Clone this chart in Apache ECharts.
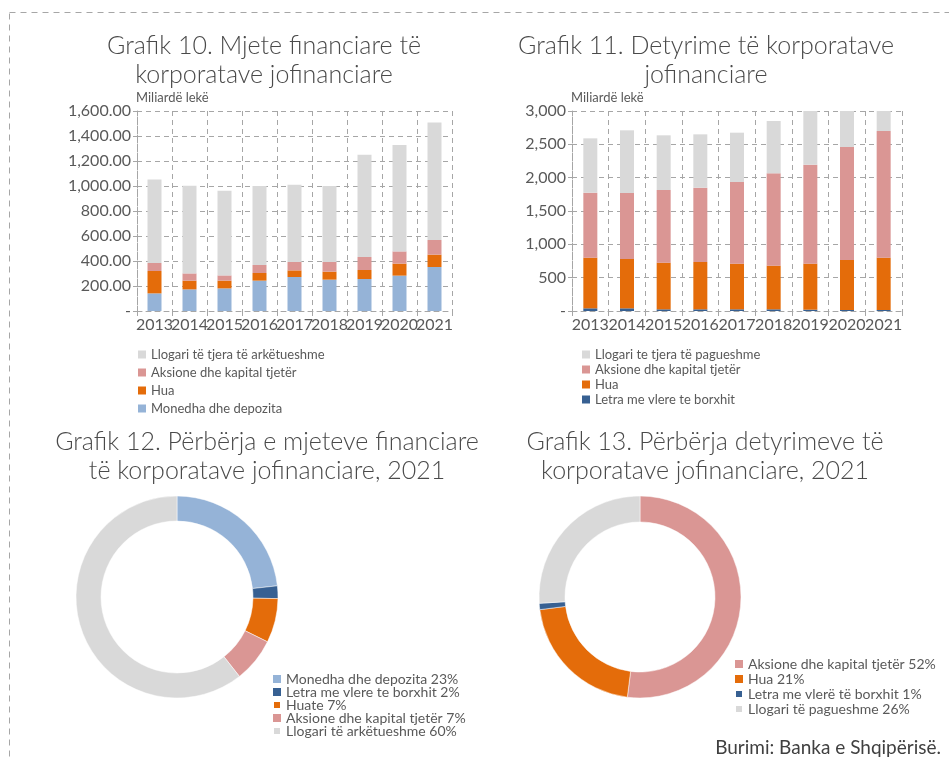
<!DOCTYPE html>
<html>
<head>
<meta charset="utf-8">
<script src="https://cdn.jsdelivr.net/npm/echarts@6/dist/echarts.min.js"></script>
<style>
  html, body { margin: 0; padding: 0; background: #fff; }
  #main { width: 949px; height: 760px; }
</style>
</head>
<body>
<div id="main"></div>
<script>
// te dhenat
const years = ['2013', '2014', '2015', '2016', '2017', '2018', '2019', '2020', '2021'];

// Grafik 10 - mjete financiare (miliarde leke)
const mjeteMonedha = [141, 173, 181, 243, 272, 251, 256, 283, 352];
const mjeteHua = [179, 70, 62, 61, 53, 64, 72, 96, 99];
const mjeteAksione = [64, 58, 42, 64, 67, 77, 104, 98, 117];
const mjeteLlogari = [669, 702, 678, 632, 619, 608, 819, 851, 941];

// Grafik 11 - detyrime
const detLetra = [40, 40, 25, 25, 25, 25, 20, 15, 15];
const detHua = [760, 740, 700, 710, 685, 655, 690, 750, 785];
const detAksione = [975, 990, 1090, 1115, 1225, 1385, 1485, 1695, 1900];
const detLlogari = [815, 940, 820, 800, 740, 785, 900, 950, 970];

// Grafik 12 / 13 - perberja 2021 (%)
const pie12Names = ['Monedha dhe depozita', 'Letra me vlere te borxhit', 'Huate', 'Aksione dhe kapital tjetër', 'Llogari të arkëtueshme'];
const pie12Values = [23, 2, 7, 7, 60];
const pie13Names = ['Aksione dhe kapital tjetër', 'Hua', 'Letra me vlerë të borxhit', 'Llogari të pagueshme'];
const pie13Values = [52, 21, 1, 26];

const C = {
    gray: '#d9d9d9',
    pink: '#da9694',
    orange: '#e46c0a',
    lightBlue: '#95b3d7',
    darkBlue: '#376092'
};
const FONT = 'Lato, "DejaVu Sans", sans-serif';
const TXT = '#595959';
const GRIDLINE = { color: '#a6a6a6', type: [5, 4], width: 1 };

const pct12 = {};
pie12Names.forEach((n, i) => { pct12[n] = pie12Values[i]; });
const pct13 = {};
pie13Names.forEach((n, i) => { pct13[n] = pie13Values[i]; });

function fmtNum(v, dec) {
    if (v === 0) return '-';
    return v.toLocaleString('en-US', { minimumFractionDigits: dec, maximumFractionDigits: dec });
}

function xAx(gridIndex) {
    return {
        type: 'category', gridIndex: gridIndex, data: years,
        axisLine: { show: true, lineStyle: GRIDLINE },
        axisTick: { show: true, length: 5, interval: 0, lineStyle: { color: '#a6a6a6' } },
        splitLine: { show: true, interval: 0, lineStyle: GRIDLINE },
        axisLabel: { interval: 0, hideOverlap: false, color: TXT, fontSize: 16, fontFamily: FONT, margin: 6 }
    };
}
function yAx(gridIndex, max, step, dec) {
    return {
        type: 'value', gridIndex: gridIndex, min: 0, max: max, interval: step,
        axisLine: { show: true, lineStyle: GRIDLINE },
        axisTick: { show: true, length: 4, lineStyle: { color: '#a6a6a6' } },
        splitLine: { show: true, lineStyle: GRIDLINE },
        axisLabel: { color: TXT, fontSize: 16, fontFamily: FONT, margin: 6,
            formatter: v => fmtNum(v, dec) }
    };
}
function bar(name, data, color, xi, stack) {
    return {
        type: 'bar', name: name, data: data, stack: stack,
        xAxisIndex: xi, yAxisIndex: xi, barWidth: 14,
        itemStyle: { color: color }
    };
}
function legendTxt(extra) {
    return Object.assign({ color: TXT, fontSize: 13, fontFamily: FONT }, extra || {});
}

const chart = echarts.init(document.getElementById('main'));

const option = {
    backgroundColor: '#fff',
    animation: false,
    grid: [
        { left: 137, right: 497, top: 111, bottom: 449 },
        { left: 572, right: 47, top: 111, bottom: 449 }
    ],
    xAxis: [xAx(0), xAx(1)],
    yAxis: [yAx(0, 1600, 200, 2), yAx(1, 3000, 500, 0)],
    legend: [
        {
            orient: 'vertical', left: 133, top: 343, itemWidth: 8, itemHeight: 8, itemGap: 5,
            icon: 'rect', textStyle: legendTxt(),
            data: ['Llogari të tjera të arkëtueshme', 'Aksione dhe kapital tjetër', 'Hua', 'Monedha dhe depozita']
        },
        {
            orient: 'vertical', left: 577, top: 343, itemWidth: 8, itemHeight: 8, itemGap: 2,
            icon: 'rect', textStyle: legendTxt(),
            data: ['Llogari te tjera të pagueshme', 'Aksione dhe kapital tjetër', 'Hua', 'Letra me vlere te borxhit']
        },
        {
            orient: 'vertical', left: 267, top: 667, itemWidth: 8, itemHeight: 8, itemGap: -1,
            icon: 'rect', textStyle: legendTxt({ fontSize: 14 }),
            data: pie12Names,
            formatter: n => n + ' ' + pct12[n] + '%'
        },
        {
            orient: 'vertical', left: 729, top: 652, itemWidth: 8, itemHeight: 8, itemGap: 1,
            icon: 'rect', textStyle: legendTxt({ fontSize: 14 }),
            data: pie13Names,
            formatter: n => n + ' ' + pct13[n] + '%'
        }
    ],
    series: [
        bar('Monedha dhe depozita', mjeteMonedha, C.lightBlue, 0, 'a'),
        bar('Hua', mjeteHua, C.orange, 0, 'a'),
        bar('Aksione dhe kapital tjetër', mjeteAksione, C.pink, 0, 'a'),
        bar('Llogari të tjera të arkëtueshme', mjeteLlogari, C.gray, 0, 'a'),

        bar('Letra me vlere te borxhit', detLetra, C.darkBlue, 1, 'b'),
        bar('Hua', detHua, C.orange, 1, 'b'),
        bar('Aksione dhe kapital tjetër', detAksione, C.pink, 1, 'b'),
        bar('Llogari te tjera të pagueshme', detLlogari, C.gray, 1, 'b'),

        {
            type: 'pie', center: [177, 597], radius: [76, 101], startAngle: 90,
            label: { show: false }, labelLine: { show: false }, silent: true,
            itemStyle: { borderColor: '#fff', borderWidth: 0.5 },
            data: pie12Names.map((n, i) => ({
                name: n, value: pie12Values[i],
                itemStyle: { color: [C.lightBlue, C.darkBlue, C.orange, C.pink, C.gray][i] }
            }))
        },
        {
            type: 'pie', center: [640, 597], radius: [75, 101], startAngle: 90,
            label: { show: false }, labelLine: { show: false }, silent: true,
            itemStyle: { borderColor: '#fff', borderWidth: 0.5 },
            data: pie13Names.map((n, i) => ({
                name: n, value: pie13Values[i],
                itemStyle: { color: [C.pink, C.orange, C.darkBlue, C.gray][i] }
            }))
        }
    ],
    graphic: [
        {
            type: 'rect', silent: true, z: -1,
            shape: { x: 9.5, y: 12.5, width: 980, height: 800 },
            style: { fill: 'none', stroke: '#a6a6a6', lineWidth: 1, lineDash: [6, 5] }
        },
        {
            type: 'text', x: 264, y: 60,
            style: { text: 'Grafik 10. Mjete financiare të\nkorporatave jofinanciare', font: '300 25px ' + FONT,
                fill: '#4a4a4a', textAlign: 'center', textVerticalAlign: 'middle', lineHeight: 29 }
        },
        {
            type: 'text', x: 706, y: 60,
            style: { text: 'Grafik 11. Detyrime të korporatave\njofinanciare', font: '300 25px ' + FONT,
                fill: '#4a4a4a', textAlign: 'center', textVerticalAlign: 'middle', lineHeight: 29 }
        },
        {
            type: 'text', x: 267, y: 456,
            style: { text: 'Grafik 12. Përbërja e mjeteve financiare\ntë korporatave jofinanciare, 2021', font: '300 25px ' + FONT,
                fill: '#4a4a4a', textAlign: 'center', textVerticalAlign: 'middle', lineHeight: 29 }
        },
        {
            type: 'text', x: 705, y: 456,
            style: { text: 'Grafik 13. Përbërja detyrimeve të\nkorporatave jofinanciare, 2021', font: '300 25px ' + FONT,
                fill: '#4a4a4a', textAlign: 'center', textVerticalAlign: 'middle', lineHeight: 29 }
        },
        {
            type: 'text', x: 136, y: 98,
            style: { text: 'Miliardë lekë', font: '13px ' + FONT, fill: TXT, textVerticalAlign: 'middle' }
        },
        {
            type: 'text', x: 571, y: 98,
            style: { text: 'Miliardë lekë', font: '13px ' + FONT, fill: TXT, textVerticalAlign: 'middle' }
        },
        {
            type: 'text', x: 941, y: 748,
            style: { text: 'Burimi: Banka e Shqipërisë.', font: '19px ' + FONT, fill: '#404040',
                textAlign: 'right', textVerticalAlign: 'middle' }
        }
    ]
};

chart.setOption(option);
</script>
</body>
</html>
